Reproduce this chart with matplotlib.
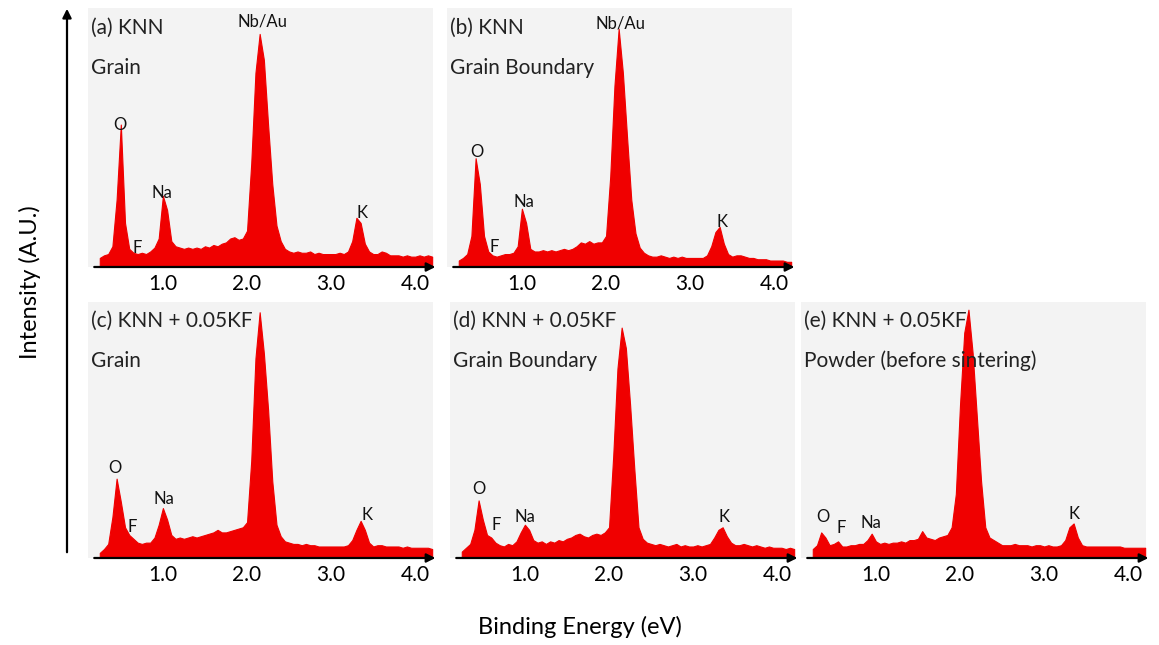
import numpy as np
import matplotlib
matplotlib.use('Agg')
import matplotlib.pyplot as plt

plt.rcParams['font.family'] = ['Lato', 'DejaVu Sans']

# energy grid (eV) shared by all spectra
energy = np.round(np.arange(0.25, 4.2001, 0.05), 2)

spec_a = [3.5, 4.5, 5, 8, 26, 55, 17, 7, 5.5, 5,
          5.5, 5, 6, 7.5, 11, 27.5, 22, 10, 8, 7.5,
          7, 7.5, 7, 7.5, 7, 8, 7.5, 8.5, 8, 9,
          9.5, 11, 11.5, 10.5, 11, 14, 40, 75, 90, 80,
          55, 32, 16, 10, 7, 6, 5.5, 6, 5.5, 5.5,
          6, 5, 5.5, 5, 5, 5, 5, 5.5, 5, 6,
          10, 19, 17, 9, 6, 5, 5, 6, 5.5, 4.5,
          4.5, 4.5, 4, 4.5, 4, 4, 4.5, 4, 4.5, 4]

spec_b = [2.5, 3.5, 5, 12, 42, 32, 12, 6, 4.5, 4,
          4.5, 5, 5, 5.5, 8, 22.5, 17, 7, 6, 6,
          6.5, 6, 6.5, 6, 6.5, 7, 6.5, 7, 8, 9.5,
          9, 10, 9, 9.5, 9.5, 12, 35, 70, 92, 75,
          50, 26, 13, 7.5, 5.5, 4.5, 4, 4, 4.5, 4,
          3.5, 4, 3.5, 4, 3.5, 3.5, 3.5, 3.5, 3.5, 4.5,
          8, 13.5, 15.5, 9, 5, 4, 4.5, 4.5, 4, 3.5,
          3.5, 3, 3, 3, 2.5, 2.5, 2.5, 2.5, 2, 2]

spec_c = [2, 3.5, 5.5, 16, 31, 22, 12, 9, 7.5, 6,
          5.5, 6, 6, 8, 13, 19.5, 15, 9, 7.5, 8,
          7.5, 8, 8.5, 8, 8.5, 9, 9.5, 10, 11, 10,
          10, 10.5, 11, 11.5, 12, 14, 38, 78, 96, 80,
          58, 30, 13, 8.5, 6.5, 6, 5.5, 5.5, 5, 5.5,
          5, 5, 4.5, 4.5, 4.5, 4.5, 4.5, 4.5, 4.5, 5,
          7, 11, 14.5, 11, 6, 4.5, 5, 5, 4.5, 4.5,
          4.5, 4.5, 4, 4.5, 4, 4, 4, 4, 4, 3.5]

spec_d = [2.5, 4, 5.5, 11, 22.5, 15, 9, 8, 6, 5,
          4.5, 5.5, 5, 6.5, 10, 13, 11, 7, 6, 6.5,
          5.5, 6.5, 6, 7, 6.5, 7.5, 8, 9, 9.5, 8.5,
          8, 9, 9.5, 9, 10, 12, 40, 74, 90, 82,
          60, 35, 12, 7.5, 6, 5.5, 5, 5.5, 5, 4.5,
          5, 5.5, 4.5, 5, 4.5, 4.5, 5, 4.5, 5, 5.5,
          8, 11, 12, 8.5, 6, 5, 5, 5.5, 5, 4.5,
          5, 4.5, 4, 4.5, 4, 4, 4, 3.5, 4, 3.5]

spec_e = [3.5, 5, 10, 8, 5, 5.5, 6.5, 4.5, 4.5, 5,
          5, 5.5, 5.5, 7, 9.5, 6.5, 5.5, 6, 5.5, 6,
          6, 6.5, 6, 7, 7, 7.5, 10.5, 8, 7.5, 7,
          8, 8.5, 9, 12, 25, 60, 88, 97, 80, 55,
          30, 12, 8, 7, 6, 5, 5, 5, 5.5, 5,
          5, 5, 4.5, 5, 5, 4.5, 5, 4.5, 4.5, 5,
          7, 12, 13.5, 8, 5, 4.5, 4.5, 4.5, 4.5, 4.5,
          4.5, 4.5, 4.5, 4.5, 4, 4, 4, 4, 4, 4]

titles = ['(a) KNN\nGrain', '(b) KNN\nGrain Boundary',
          '(c) KNN + 0.05KF\nGrain', '(d) KNN + 0.05KF\nGrain Boundary',
          '(e) KNN + 0.05KF\nPowder (before sintering)']

# peak labels: (text, energy, intensity)
labels_a = [('O', 0.49, 55), ('F', 0.69, 7.3), ('Na', 0.99, 28.6),
            ('Nb/Au', 2.18, 94.6), ('K', 3.37, 20.8)]
labels_b = [('O', 0.47, 44.4), ('F', 0.67, 7.7), ('Na', 1.02, 25),
            ('Nb/Au', 2.17, 94), ('K', 3.38, 17.4)]
labels_c = [('O', 0.43, 35), ('F', 0.64, 12.2), ('Na', 1.01, 23), ('K', 3.42, 16.8)]
labels_d = [('O', 0.45, 27), ('F', 0.66, 12.9), ('Na', 1.0, 16.1), ('K', 3.37, 16.1)]
labels_e = [('O', 0.37, 16.1), ('F', 0.59, 11.6), ('Na', 0.94, 13.6), ('K', 3.36, 17.2)]

spectra = [spec_a, spec_b, spec_c, spec_d, spec_e]
peak_labels = [labels_a, labels_b, labels_c, labels_d, labels_e]

W, H = 1159, 645
fig = plt.figure(figsize=(W / 100, H / 100), dpi=100)

# axes boxes in pixels: left, axis line y, top y
boxes = [(88, 267, 8), (447, 267, 8), (88, 558, 302), (450, 558, 302), (801, 558, 302)]
red = '#f00000'

for i in range(5):
    left, ybot, ytop = boxes[i]
    ax = fig.add_axes([left / W, (H - ybot) / H, 345 / W, (ybot - ytop) / H])
    ax.set_facecolor('#f3f3f3')
    ax.fill_between(energy, 0, spectra[i], color=red, lw=0.8, edgecolor=red)
    ax.set_xlim(0.11, 4.21)
    ax.set_ylim(0, 100)
    for s in ax.spines.values():
        s.set_visible(False)
    ax.set_yticks([])
    ax.set_xticks([1, 2, 3, 4])
    ax.set_xticklabels(['1.0', '2.0', '3.0', '4.0'], fontsize=15)
    ax.tick_params(axis='x', length=0, pad=5)
    ax.annotate('', xy=(1.015, 0), xytext=(0.01, 0), xycoords='axes fraction',
                arrowprops=dict(arrowstyle='-|>', color='black', lw=1.6, mutation_scale=13),
                annotation_clip=False)
    t1, t2 = titles[i].split('\n')
    ax.text(0.008, 0.925, t1, transform=ax.transAxes, fontsize=15, va='center', color='#222222')
    ax.text(0.008, 0.77, t2, transform=ax.transAxes, fontsize=15, va='center', color='#222222')
    for name, ex, iy in peak_labels[i]:
        ax.text(ex, iy, name, fontsize=12, ha='center', va='center', color='#111111')

# big intensity arrow on the left
fig.add_artist(matplotlib.patches.FancyArrowPatch(
    (67 / W, (H - 555) / H), (67 / W, (H - 6) / H), transform=fig.transFigure,
    arrowstyle='-|>', mutation_scale=13, color='black', lw=1.6))
fig.text(30 / W, (H - 282) / H, 'Intensity (A.U.)', rotation=90, fontsize=17,
         ha='center', va='center')
fig.text(580 / W, (H - 627) / H, 'Binding Energy (eV)', fontsize=17,
         ha='center', va='center')

fig.savefig('out.png', dpi=100, facecolor='white')
